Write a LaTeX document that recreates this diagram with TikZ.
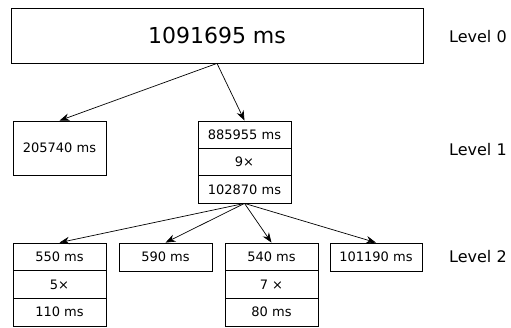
\documentclass[tikz,border=0pt]{standalone}
\usepackage{fontspec}
\setmainfont{DejaVu Sans}
\usetikzlibrary{arrows.meta}
\begin{document}
\begin{tikzpicture}[x=1pt,y=-1pt,
  box/.style={draw, line width=0.8pt, minimum width=93pt, inner sep=0pt, font=\fontsize{13}{13}\selectfont},
  arr/.style={-{Stealth[length=10pt,width=7.5pt]}, line width=0.7pt},
  lvl/.style={anchor=west, inner sep=0pt, font=\fontsize{16}{18}\selectfont}]
\useasboundingbox (0,0) rectangle (511,327);
% level 0
\node[box, minimum width=412pt, minimum height=55pt, font=\fontsize{22}{24}\selectfont] (root) at (217,35.5) {1091695 ms};
% level 1
\node[box, minimum height=54pt] (a) at (59.5,148) {205740 ms};
\node[box, minimum height=27.33pt] (b1) at (244.5,134.67) {885955 ms};
\node[box, minimum height=27.33pt] (b2) at (244.5,162) {9×};
\node[box, minimum height=27.33pt] (b3) at (244.5,189.33) {102870 ms};
% level 2
\node[box, minimum height=27.67pt] (c1) at (59.5,256.83) {550 ms};
\node[box, minimum height=27.67pt] (c2) at (59.5,284.5) {5×};
\node[box, minimum height=27.67pt] (c3) at (59.5,312.17) {110 ms};
\node[box, minimum height=28pt] (d) at (165.5,257) {590 ms};
\node[box, minimum height=27.67pt] (e1) at (271.5,256.83) {540 ms};
\node[box, minimum height=27.67pt] (e2) at (271.5,284.5) {7 ×};
\node[box, minimum height=27.67pt] (e3) at (271.5,312.17) {80 ms};
\node[box, minimum width=92pt, minimum height=28pt] (f) at (376,257) {101190 ms};
% connectors
\draw[arr] (root.south) -- (a.north);
\draw[arr] (root.south) -- (b1.north);
\draw[arr] (b3.south) -- (c1.north);
\draw[arr] (b3.south) -- (d.north);
\draw[arr] (b3.south) -- (e1.north);
\draw[arr] (b3.south) -- (f.north);
% level labels
\node[lvl] (l0) at (449,37) {Level 0};
\node[lvl] (l1) at (449,150) {Level 1};
\node[lvl] (l2) at (449,257) {Level 2};
\end{tikzpicture}
\end{document}
